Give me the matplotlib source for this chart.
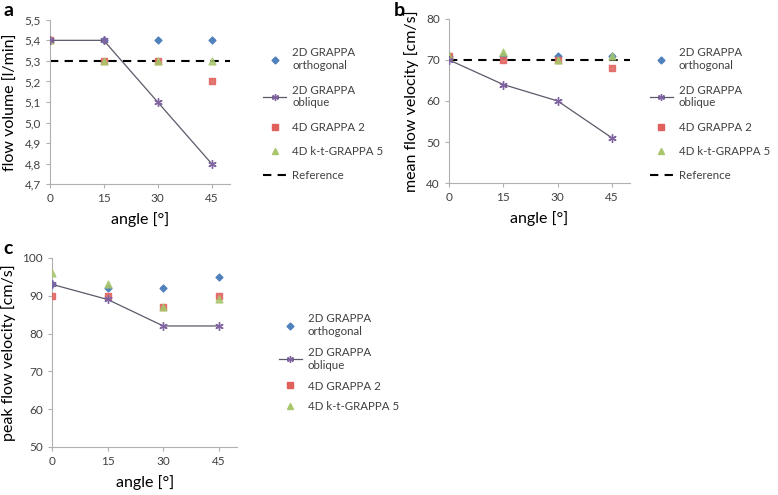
import matplotlib.pyplot as plt
from matplotlib.lines import Line2D

plt.rcParams['font.family'] = ['Lato', 'DejaVu Sans']

angles = [0, 15, 30, 45]

# a: flow volume [l/min]
vol_ortho = [5.4, 5.4, 5.4, 5.4]
vol_oblique = [5.4, 5.4, 5.1, 4.8]
vol_4d = [5.4, 5.3, 5.3, 5.2]
vol_kt = [5.4, 5.3, 5.3, 5.3]
vol_ref = 5.3

# b: mean flow velocity [cm/s]
mean_ortho = [71, 71, 71, 71]
mean_oblique = [70, 64, 60, 51]
mean_4d = [71, 70, 70, 68]
mean_kt = [71, 72, 70, 71]
mean_ref = 70

# c: peak flow velocity [cm/s]
peak_ortho = [93, 92, 92, 95]
peak_oblique = [93, 89, 82, 82]
peak_4d = [90, 90, 87, 90]
peak_kt = [96, 93, 87, 89]

labels = ['2D GRAPPA\northogonal', '2D GRAPPA\noblique', '4D GRAPPA 2',
          '4D k-t-GRAPPA 5', 'Reference']

c_blue = '#4F81BD'
c_purple = '#8064A2'
c_red = '#E0605C'
c_green = '#A8C66C'
c_line = '#5A5A6A'
c_axis = '#B0B0B0'
c_text = '#404040'

fig = plt.figure(figsize=(7.78, 4.95), dpi=100)


def panel(rect, ortho, oblique, d4, kt, ref, ylim, yticks, ylabel, fmt):
    ax = fig.add_axes(rect)
    ax.scatter(angles, ortho, marker='D', s=12, color=c_blue, zorder=3)
    ax.scatter(angles, d4, marker='s', s=20, color=c_red, alpha=0.85, zorder=3)
    ax.scatter(angles, kt, marker='^', s=24, color=c_green, alpha=0.85, zorder=3)
    ax.plot(angles, oblique, color=c_line, lw=0.9, marker=(6, 2, 0), ms=6,
            mec=c_purple, mfc=c_purple, mew=1.0, zorder=4)
    if ref is not None:
        ax.axhline(ref, color='black', lw=1.5, ls=(0, (4, 3)), zorder=2)
    ax.set_xlim(0, 50)
    ax.set_ylim(*ylim)
    ax.set_xticks(angles)
    ax.set_yticks(yticks)
    ax.set_yticklabels([fmt(v) for v in yticks])
    for s in ['top', 'right']:
        ax.spines[s].set_visible(False)
    for s in ['left', 'bottom']:
        ax.spines[s].set_color(c_axis)
    ax.tick_params(colors=c_axis, labelcolor=c_text, labelsize=8.5, length=3)
    ax.set_xlabel('angle [°]', fontsize=11.5, color='black', labelpad=6)
    ax.set_ylabel(ylabel, fontsize=11.5, color='black', labelpad=5)
    return ax


def add_legend(x, y, with_ref, spacing):
    h = [Line2D([], [], ls='none', marker='D', ms=3.5, color=c_blue),
         Line2D([], [], color=c_line, lw=0.9, marker=(6, 2, 0), ms=5,
                mec=c_purple, mfc=c_purple),
         Line2D([], [], ls='none', marker='s', ms=4.5, color=c_red),
         Line2D([], [], ls='none', marker='^', ms=5, color=c_green)]
    lab = labels[:4]
    if with_ref:
        h.append(Line2D([], [], color='black', lw=1.5, ls=(0, (4, 3))))
        lab = labels
    fig.legend(h, lab, loc='upper left', bbox_to_anchor=(x, y), frameon=False,
               fontsize=8.3, labelspacing=spacing, handlelength=2.0,
               handletextpad=0.5, labelcolor=c_text)


def fmt_comma(v):
    return f'{v:.1f}'.replace('.', ',')


def fmt_int(v):
    return f'{v:.0f}'


panel([0.064, 0.628, 0.231, 0.332], vol_ortho, vol_oblique, vol_4d, vol_kt,
      vol_ref, (4.7, 5.5), [4.7, 4.8, 4.9, 5.0, 5.1, 5.2, 5.3, 5.4, 5.5],
      'flow volume [l/min]', fmt_comma)
panel([0.577, 0.630, 0.233, 0.332], mean_ortho, mean_oblique, mean_4d, mean_kt,
      mean_ref, (40, 80), [40, 50, 60, 70, 80],
      'mean flow velocity [cm/s]', fmt_int)
panel([0.067, 0.097, 0.238, 0.382], peak_ortho, peak_oblique, peak_4d, peak_kt,
      None, (50, 100), [50, 60, 70, 80, 90, 100],
      'peak flow velocity [cm/s]', fmt_int)

for x, y, letter in [(0.004, 0.978, 'a'), (0.506, 0.978, 'b'), (0.004, 0.498, 'c')]:
    fig.text(x, y, letter, fontsize=14, fontweight='bold', ha='left', va='center')

add_legend(0.325, 0.925, True, 1.15)
add_legend(0.822, 0.925, True, 1.15)
add_legend(0.345, 0.388, False, 0.85)

fig.savefig('out.png', dpi=100)
